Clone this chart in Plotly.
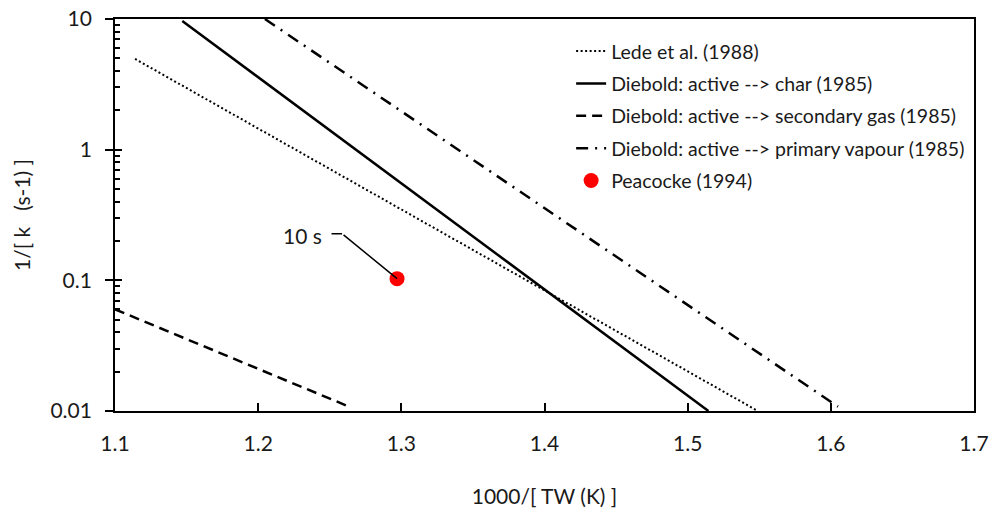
import math
import plotly.graph_objects as go

# Arrhenius-type lines: residence time 1/k against 1000/T (endpoints of each straight log-line)
lede_x = [1.114, 1.549]
lede_y = [4.95, 0.0100]

char_x = [1.147, 1.5145]
char_y = [9.66, 0.0100]

secgas_x = [1.100, 1.2626]
secgas_y = [0.0600, 0.0109]

vapour_x = [1.2047, 1.605]
vapour_y = [10.0, 0.0108]

peacocke_x = [1.297]
peacocke_y = [0.103]

major_ticks = [0.01, 0.1, 1, 10]
minor_ticks = [m * d for d in (0.01, 0.1, 1) for m in range(2, 10)]

FONT = "Lato, 'Open Sans', sans-serif"
INK = "#1a1a1a"

fig = go.Figure()

fig.add_trace(go.Scatter(
    x=lede_x, y=lede_y, mode="lines", name="Lede et al. (1988)",
    legendgroup="a", line=dict(color="black", width=2, dash="2px,2.5px")))
fig.add_trace(go.Scatter(
    x=char_x, y=char_y, mode="lines", name="Diebold: active --> char (1985)",
    legendgroup="b", line=dict(color="black", width=2.5)))
fig.add_trace(go.Scatter(
    x=secgas_x, y=secgas_y, mode="lines", name="Diebold: active --> secondary gas (1985)",
    legendgroup="c", line=dict(color="black", width=2.5, dash="10px,6px")))
fig.add_trace(go.Scatter(
    x=vapour_x, y=vapour_y, mode="lines", name="Diebold: active --> primary vapour (1985)",
    legendgroup="d", line=dict(color="black", width=2.5, dash="12px,7px,2px,7px")))
fig.add_trace(go.Scatter(
    x=peacocke_x, y=peacocke_y, mode="markers", name="Peacocke (1994)",
    legendgroup="e", marker=dict(color="#ff0000", size=15)))

# empty traces that keep the tick-only overlay axes alive
for ax in ("y2", "y3"):
    fig.add_trace(go.Scatter(x=[None], y=[None], yaxis=ax, showlegend=False,
                             hoverinfo="skip", mode="lines"))

# Leader line for the "10 s" label: diagonal leg, short horizontal leg, then the text
py = math.log10(peacocke_y[0])  # annotation positions on a log axis are in log10 units
fig.add_annotation(x=peacocke_x[0], y=py, xref="x", yref="y", text="",
                   showarrow=True, arrowhead=0, arrowwidth=1.5, arrowcolor="black",
                   ax=-55, ay=-45, standoff=0)
fig.add_annotation(x=peacocke_x[0], y=py, xref="x", yref="y", text="",
                   showarrow=True, arrowhead=0, arrowwidth=1.5, arrowcolor="black",
                   xshift=-55, yshift=45, ax=-12, ay=0, standoff=0)
fig.add_annotation(x=peacocke_x[0], y=py, xref="x", yref="y", text="10 s",
                   showarrow=False, xanchor="right", yanchor="middle",
                   xshift=-73, yshift=43, font=dict(family=FONT, size=21, color=INK))

tick_overlay = dict(type="log", range=[-2, 1], overlaying="y", side="left",
                    showticklabels=False, showgrid=False, zeroline=False, showline=False,
                    ticks="inside", tickwidth=1.5, tickcolor="black", automargin=False)

fig.update_layout(
    width=989, height=510,
    margin=dict(l=115, r=15, t=19, b=99),
    paper_bgcolor="white", plot_bgcolor="white",
    font=dict(family=FONT, size=19, color=INK),
    showlegend=True,
    legend=dict(x=0.531, y=0.967, xanchor="left", yanchor="top",
                bgcolor="rgba(0,0,0,0)", font=dict(family=FONT, size=19.5, color=INK),
                tracegroupgap=4, itemwidth=30),
    xaxis=dict(
        range=[1.1, 1.7], dtick=0.1, tickformat=".1f", automargin=False,
        showgrid=False, zeroline=False,
        showline=True, linecolor="black", linewidth=1.5, mirror=True,
        ticks="inside", ticklen=8, tickwidth=1.5, tickcolor="black",
        tickfont=dict(family=FONT, size=21, color=INK), ticklabelstandoff=13,
        title=dict(text="1000/[ TW (K) ]", font=dict(family=FONT, size=21, color=INK), standoff=35),
    ),
    yaxis=dict(
        type="log", range=[-2, 1], automargin=False,
        tickvals=major_ticks, ticktext=["0.01", "0.1", "1", "10"],
        showgrid=False, zeroline=False,
        showline=True, linecolor="black", linewidth=1.8, mirror=True,
        ticks="outside", ticklen=8, tickwidth=1.5, tickcolor="black",
        tickfont=dict(family=FONT, size=21, color=INK), ticklabelstandoff=9,
        title=dict(text="1/[ k   (s-1) ]", font=dict(family=FONT, size=21, color=INK), standoff=14),
    ),
    # inside tick marks: minor decades and the inner half of the majors
    yaxis2=dict(tick_overlay, tickvals=minor_ticks, ticklen=5),
    yaxis3=dict(tick_overlay, tickvals=major_ticks, ticklen=7),
)

fig.write_html("out.html")
